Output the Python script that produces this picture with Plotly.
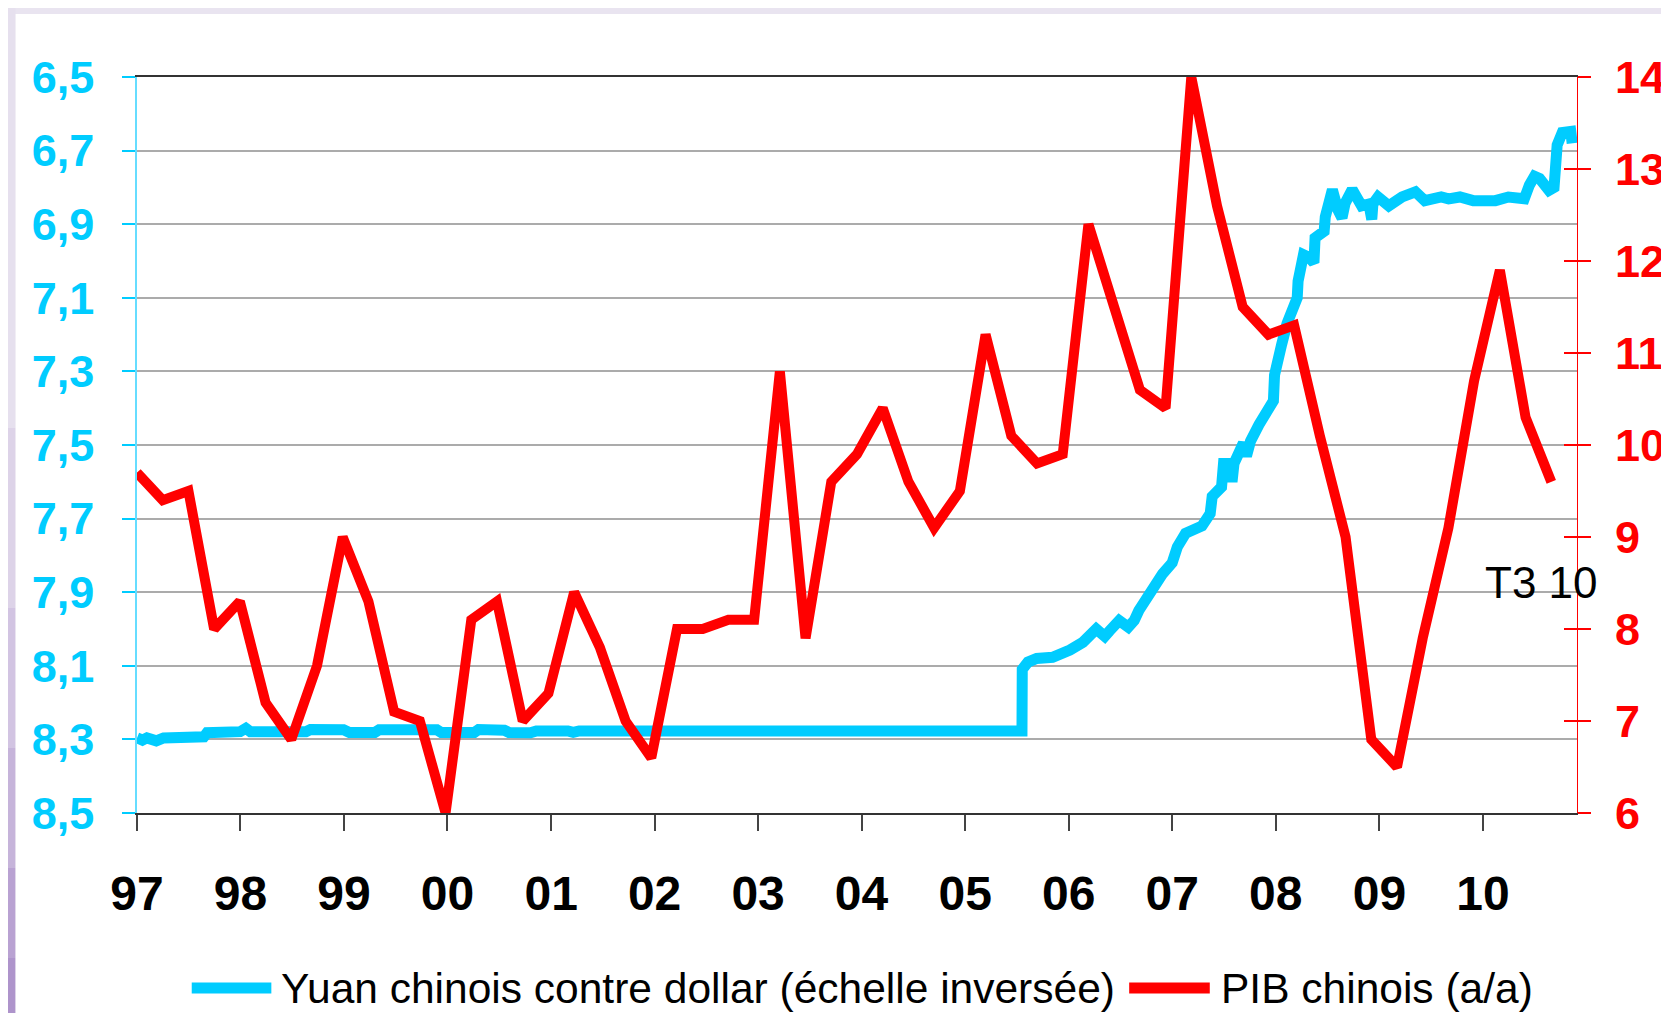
import plotly.graph_objects as go

# ---------------- data ----------------
yuan_dates = [
    "1997-01-01", "1997-01-20", "1997-02-05", "1997-03-10", "1997-04-05", "1997-06-01",
    "1997-08-25", "1997-09-05", "1997-12-31", "1998-01-20", "1998-02-05", "1998-08-20",
    "1998-09-05", "1998-12-31", "1999-01-20", "1999-04-20", "1999-05-05", "1999-11-25",
    "1999-12-10", "2000-04-05", "2000-04-20", "2000-07-20", "2000-08-05", "2000-10-20",
    "2000-11-10", "2001-03-01", "2001-03-20", "2001-04-10", "2001-08-01", "2001-08-15",
    "2001-09-01", "2002-03-01", "2003-06-01", "2004-06-01", "2005-07-20",
    "2005-07-21", "2005-08-10", "2005-09-10", "2005-11-05", "2006-01-05", "2006-02-20",
    "2006-04-08", "2006-05-08", "2006-05-25", "2006-06-28", "2006-07-30", "2006-08-20",
    "2006-09-05", "2006-10-01", "2006-10-23", "2006-11-28", "2007-01-01", "2007-01-19",
    "2007-02-17", "2007-04-16", "2007-05-15", "2007-05-22", "2007-06-24", "2007-07-01",
    "2007-07-24", "2007-07-31", "2007-08-07", "2007-08-22", "2007-09-09", "2007-09-20",
    "2007-10-04", "2007-11-03", "2007-11-25", "2007-12-24", "2007-12-28", "2008-01-08",
    "2008-01-22", "2008-02-10", "2008-02-28", "2008-03-17", "2008-03-20", "2008-03-28",
    "2008-04-08", "2008-04-27", "2008-05-15", "2008-05-19", "2008-06-20", "2008-06-24",
    "2008-07-05", "2008-07-19", "2008-08-07", "2008-08-22", "2008-09-02", "2008-09-27",
    "2008-10-30", "2008-11-25", "2008-12-05", "2008-12-09", "2008-12-27", "2009-02-03",
    "2009-03-22", "2009-05-08", "2009-06-10", "2009-08-07", "2009-09-02", "2009-10-12",
    "2009-11-28", "2010-02-14", "2010-04-01", "2010-05-27", "2010-06-14", "2010-07-02",
    "2010-07-20", "2010-08-22", "2010-09-09", "2010-09-13", "2010-09-20", "2010-10-08",
    "2010-11-07", "2010-11-12",
]
yuan_values = [
    8.296, 8.302, 8.296, 8.304, 8.296, 8.296,
    8.293, 8.282, 8.279, 8.270, 8.279, 8.279,
    8.273, 8.274, 8.281, 8.281, 8.274, 8.274,
    8.281, 8.281, 8.273, 8.275, 8.281, 8.282,
    8.277, 8.277, 8.281, 8.277, 8.277, 8.281,
    8.277, 8.277, 8.277, 8.277, 8.277,
    8.110, 8.090, 8.080, 8.077, 8.057, 8.036,
    8.000, 8.020, 8.005, 7.977, 7.995, 7.977,
    7.950, 7.920, 7.886, 7.850, 7.820, 7.777,
    7.740, 7.720, 7.686, 7.640, 7.614, 7.550,
    7.550, 7.600, 7.550, 7.530, 7.495, 7.530,
    7.490, 7.445, 7.418, 7.380, 7.310, 7.260,
    7.227, 7.170, 7.130, 7.100, 7.055, 7.020,
    6.983, 6.990, 7.005, 6.937, 6.919, 6.880,
    6.838, 6.806, 6.860, 6.883, 6.843, 6.806,
    6.850, 6.845, 6.887, 6.845, 6.826, 6.850,
    6.826, 6.812, 6.836, 6.826, 6.831, 6.826,
    6.836, 6.836, 6.826, 6.831, 6.794, 6.770,
    6.776, 6.808, 6.800, 6.720, 6.685, 6.651,
    6.648, 6.680,
]

quarters = [f"T{q} {y % 100:02d}" for y in range(1997, 2011) for q in (1, 2, 3, 4)][:56]
pib_values = [
    9.7, 9.4, 9.5, 8.0, 8.3, 7.2, 6.8, 7.6, 9.0, 8.3, 7.1, 7.0, 6.0, 8.1, 8.3, 7.0,
    7.3, 8.4, 7.8, 7.0, 6.6, 8.0, 8.0, 8.1, 8.1, 10.8, 7.9, 9.6, 9.9, 10.4, 9.6, 9.1,
    9.5, 11.2, 10.1, 9.8, 9.9, 12.4, 11.5, 10.6, 10.4, 14.0, 12.6, 11.5, 11.2, 11.3,
    10.1, 9.0, 6.8, 6.5, 7.9, 9.1, 10.7, 11.9, 10.3, 9.6,
]

left_ticks = [6.5, 6.7, 6.9, 7.1, 7.3, 7.5, 7.7, 7.9, 8.1, 8.3, 8.5]
left_ticktext = [f"{v:.1f}".replace(".", ",") for v in left_ticks]

name_yuan = "Yuan chinois contre dollar (échelle inversée)"
name_pib = "PIB chinois (a/a)"
last_label = "T3 10"

# ---------------- layout geometry (pixels) ----------------
W, H = 1669, 1013
L, R, T, B = 129, 1576, 69, 805
PW, PH = R - L, B - T


def px(x):
    return (x - L) / PW


def py(y):
    return (B - y) / PH


CYAN = "#00CCFF"
RED = "#FF0000"
FONT = "Liberation Sans, Arial, sans-serif"

fig = go.Figure()

fig.add_trace(go.Scatter(
    x=yuan_dates, y=yuan_values, mode="lines", name=name_yuan,
    line=dict(color=CYAN, width=11), xaxis="x", yaxis="y", showlegend=False,
))
fig.add_trace(go.Scatter(
    x=quarters, y=pib_values, mode="lines", name=name_pib,
    line=dict(color=RED, width=10), xaxis="x2", yaxis="y2", showlegend=False,
))
# empty trace so that the inside red tick marks get drawn
fig.add_trace(go.Scatter(x=[], y=[], xaxis="x2", yaxis="y3", showlegend=False))

# lavender frame: left strip darkens towards the bottom
strip_colors = ["#e6e0ee", "#ddd3e8", "#d2c4e2", "#c6b4da", "#b9a2d2", "#ae94cb"]
strip_edges = [0, 420, 600, 740, 860, 950, H]
shapes = []
for c, y0, y1 in zip(strip_colors, strip_edges[:-1], strip_edges[1:]):
    shapes.append(dict(type="rect", xref="paper", yref="paper", layer="below",
                       x0=px(-5), x1=px(7), y0=py(y1), y1=py(y0),
                       fillcolor=c, line=dict(width=0)))
shapes += [
    dict(type="rect", xref="paper", yref="paper", layer="below",
         x0=px(7), x1=px(1665), y0=py(H + 5), y1=py(6),
         fillcolor="white", line=dict(width=0)),
    dict(type="line", xref="paper", yref="paper",
         x0=px(184), x1=px(264), y0=py(980), y1=py(980),
         line=dict(color=CYAN, width=11)),
    dict(type="line", xref="paper", yref="paper",
         x0=px(1126), x1=px(1207), y0=py(980), y1=py(980),
         line=dict(color=RED, width=11)),
]

annotations = [
    dict(text=name_yuan, xref="paper", yref="paper", x=px(272), y=py(980),
         xanchor="left", yanchor="middle", showarrow=False,
         font=dict(family=FONT, size=42.5, color="black")),
    dict(text=name_pib, xref="paper", yref="paper", x=px(1216), y=py(980),
         xanchor="left", yanchor="middle", showarrow=False,
         font=dict(family=FONT, size=42.5, color="black")),
    dict(text=last_label, xref="paper", yref="paper", x=px(1540), y=py(574),
         xanchor="center", yanchor="middle", showarrow=False,
         font=dict(family=FONT, size=44, color="black")),
]

fig.update_layout(
    width=W, height=H,
    margin=dict(l=L, r=W - R, t=T, b=H - B, pad=0),
    paper_bgcolor="#e9e4f0",
    plot_bgcolor="white",
    showlegend=False,
    shapes=shapes,
    annotations=annotations,
    font=dict(family=FONT),
    xaxis=dict(
        type="date", range=["1997-01-01", "2010-11-29"],
        tick0="1997-01-01", dtick="M12", tickformat="%y",
        ticks="outside", ticklen=16, tickwidth=1.5, tickcolor="#444",
        showline=True, linecolor="#333", linewidth=1.5, mirror=True,
        showgrid=False, zeroline=False,
        tickfont=dict(family=FONT, size=48, color="black", weight="bold"),
        ticklabelstandoff=22,
    ),
    xaxis2=dict(
        type="category", overlaying="x", range=[0, 56], visible=False,
        showgrid=False, zeroline=False,
    ),
    yaxis=dict(
        range=[8.5, 6.5], tickvals=left_ticks, ticktext=left_ticktext,
        ticks="outside", ticklen=13, tickwidth=1.5, tickcolor=CYAN,
        showline=True, linecolor="#66DDFF", linewidth=1.5,
        showgrid=True, gridcolor="#ababab", gridwidth=1.5, zeroline=False,
        tickfont=dict(family=FONT, size=45, color=CYAN, weight="bold"),
        ticklabelstandoff=19,
    ),
    yaxis2=dict(
        range=[6, 14], dtick=1, tick0=6, overlaying="y", side="right", anchor="x2",
        ticks="outside", ticklen=13, tickwidth=1.5, tickcolor=RED,
        showline=True, linecolor=RED, linewidth=1,
        showgrid=False, zeroline=False,
        tickfont=dict(family=FONT, size=45, color=RED, weight="bold"),
        ticklabelstandoff=15,
    ),
    yaxis3=dict(
        range=[6, 14], dtick=1, tick0=6, overlaying="y", side="right", anchor="x2",
        ticks="inside", ticklen=13, tickwidth=1.5, tickcolor=RED,
        showline=False, showticklabels=False, showgrid=False, zeroline=False,
    ),
)

fig.write_html("out.html")
